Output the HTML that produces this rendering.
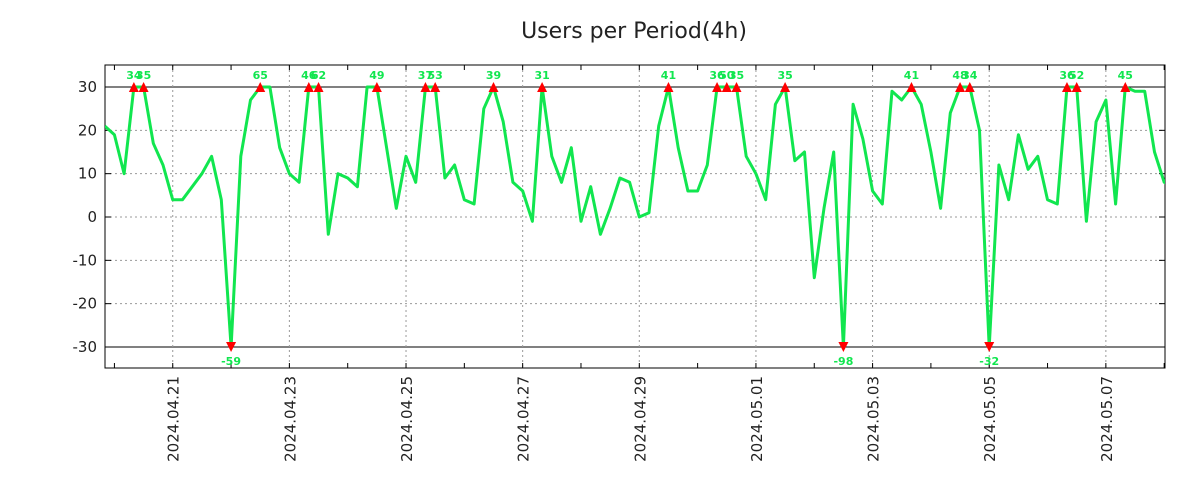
<!DOCTYPE html>
<html><head><meta charset="utf-8"><style>
body{margin:0;background:#fff;font-family:"Liberation Sans","DejaVu Sans",sans-serif}
svg{display:block}
</style></head><body>
<svg id="chart" width="1200" height="500" xmlns="http://www.w3.org/2000/svg">
<defs><clipPath id="plotclip"><rect x="105" y="60" width="1060" height="310"/></clipPath></defs>
<text x="634" y="38" text-anchor="middle" font-family="DejaVu Sans, sans-serif" font-size="22" fill="#222">Users per Period(4h)</text>
<g id="grid"></g><g id="axes"></g><g id="series" clip-path="url(#plotclip)"></g><g id="marks"></g>
</svg>
<script>
const values=[21,19,10,34,35,17,12,4,4,7,10,14,4,-59,14,27,65,30,16,10,8,46,62,-4,10,9,7,30,49,16,2,14,8,37,53,9,12,4,3,25,39,22,8,6,-1,31,14,8,16,-1,7,-4,2,9,8,0,1,21,41,16,6,6,12,36,50,35,14,10,4,26,35,13,15,-14,2,15,-98,26,18,6,3,29,27,41,26,15,2,24,48,34,20,-32,12,4,19,11,14,4,3,36,52,-1,22,27,3,45,29,29,15,8,7];
const dateLabels=["2024.04.21","2024.04.23","2024.04.25","2024.04.27","2024.04.29","2024.05.01","2024.05.03","2024.05.05","2024.05.07"];
const yTicks=[-30,-20,-10,0,10,20,30];
const NS="http://www.w3.org/2000/svg";
const L=105,R=1165,T=65,B=368,x0=104.7,step=9.72,firstLabelIdx=7;
const xs=i=>x0+i*step;
const ys=v=>217-v*(260/60);
const clip=v=>Math.max(-30,Math.min(30,v));
function mk(tag,attrs,parent){const e=document.createElementNS(NS,tag);for(const k in attrs)e.setAttribute(k,attrs[k]);document.getElementById(parent).appendChild(e);return e;}
yTicks.forEach(v=>{
 const y=ys(v);
 const g=mk('line',{x1:L,x2:R,y1:y,y2:y,stroke:Math.abs(v)==30?'#000':'#999','stroke-width':1,'stroke-dasharray':Math.abs(v)==30?'':'2,3'},'grid');
 
 
 const t=mk('text',{x:L-8,y:y+5,'text-anchor':'end','font-size':15,fill:'#222','font-family':'DejaVu Sans, sans-serif'},'axes');
 t.textContent=v;
 
 
 mk('line',{x1:L,x2:L+6,y1:y,y2:y,stroke:'#000'},'axes');
 mk('line',{x1:R,x2:R-6,y1:y,y2:y,stroke:'#000'},'axes');
});
for(let d=-1;d<=18;d++){const x=xs(firstLabelIdx+d*6);if(x<L||x>R)continue;
 mk('line',{x1:x,x2:x,y1:B,y2:B-5,stroke:'#000'},'axes');mk('line',{x1:x,x2:x,y1:T,y2:T+5,stroke:'#000'},'axes');}
dateLabels.forEach((lab,k)=>{
 const x=xs(firstLabelIdx+k*12);
 const g=mk('line',{x1:x,x2:x,y1:T,y2:B,stroke:'#999','stroke-dasharray':'2,3'},'grid');
 
 
 const t=mk('text',{x:0,y:0,transform:`translate(${x+6},${B+8}) rotate(-90)`,'text-anchor':'end','font-size':15,fill:'#222','font-family':'DejaVu Sans, sans-serif'},'axes');
 t.textContent=lab;
 
 
});
const frame=mk('rect',{x:L,y:T,width:R-L,height:B-T,fill:'none',stroke:'#000'},'axes');


const pts=values.map((v,i)=>xs(i).toFixed(1)+','+ys(clip(v)).toFixed(1)).join(' ');
const line=mk('polyline',{points:pts,fill:'none',stroke:'#11e64f','stroke-width':3,'stroke-linejoin':'round'},'series');


values.forEach((v,i)=>{
 if(v<=30&&v>=-30)return;
 const x=xs(i);
 if(x>R)return;
 if(v>30){
  const m=mk('polygon',{points:`${x-5},${ys(30)+5} ${x+5},${ys(30)+5} ${x},${ys(30)-5}`,fill:'#f00'},'marks');
  
  
  const t=mk('text',{x:x,y:ys(30)-8,'text-anchor':'middle','font-size':11,'font-weight':'bold',fill:'#11e64f','font-family':'DejaVu Sans, sans-serif'},'marks');
  t.textContent=v;
  
  
 }else{
  const m=mk('polygon',{points:`${x-5},${ys(-30)-5} ${x+5},${ys(-30)-5} ${x},${ys(-30)+5}`,fill:'#f00'},'marks');
  
  
  const t=mk('text',{x:x,y:ys(-30)+18,'text-anchor':'middle','font-size':11,'font-weight':'bold',fill:'#11e64f','font-family':'DejaVu Sans, sans-serif'},'marks');
  t.textContent=v;
  
  
 }
});
</script>
</body></html>
